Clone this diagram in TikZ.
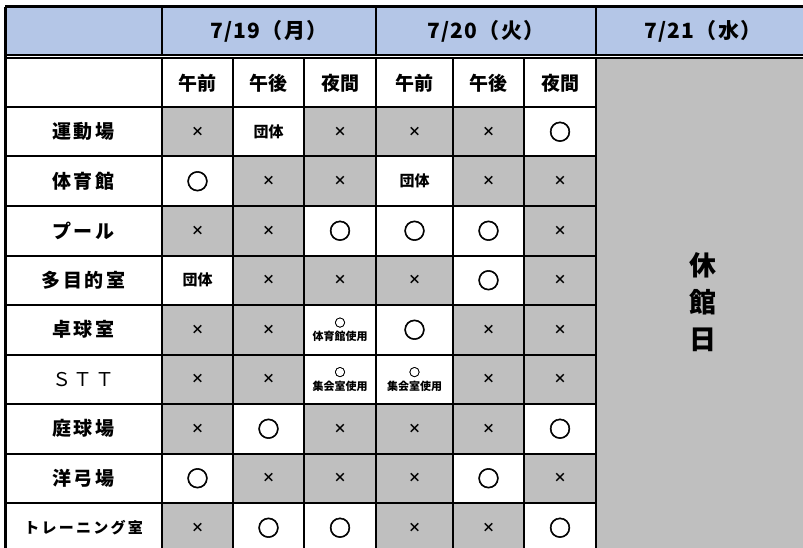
\documentclass[tikz,border=0pt]{standalone}
\usepackage{fontspec}
\newfontfamily\jp{Noto Sans CJK JP}
\usepackage{xcolor}
\definecolor{headblue}{RGB}{180,198,231}
\definecolor{closedgray}{RGB}{191,191,191}
\tikzset{
 rule/.style={line width=2pt},
 frame/.style={line width=3pt},
 datehead/.style={font=\jp\bfseries\fontsize{21}{21}\selectfont\addfontfeature{LetterSpace=6}},
 period/.style={font=\jp\bfseries\fontsize{19}{19}\selectfont},
 place/.style={font=\jp\bfseries\fontsize{19}{19}\selectfont\addfontfeature{LetterSpace=15}},
 cellbox/.style={inner sep=0pt, minimum height=49.5pt},
 nay/.style={cellbox, fill=closedgray, font=\jp\bfseries\fontsize{13}{13}\selectfont, node contents={×}},
 ok/.style={cellbox, font=\jp\bfseries\fontsize{22}{22}\selectfont\addfontfeature{FakeBold=2.5}, node contents={○}},
 dantai/.style={cellbox, font=\jp\bfseries\fontsize{15}{15}\selectfont, node contents={団体}},
 gymuse/.style={cellbox, align=center, font=\jp\bfseries\fontsize{11}{14}\selectfont, node contents={{\addfontfeature{FakeBold=2}○}\\体育館使用}},
 halluse/.style={cellbox, align=center, font=\jp\bfseries\fontsize{11}{14}\selectfont, node contents={{\addfontfeature{FakeBold=2}○}\\集会室使用}},
 closedday/.style={align=center, font=\jp\bfseries\fontsize{27}{37}\selectfont}
}
% one facility row: y, name, label, six slots
\newcommand{\facrow}[9]{
 \node[place] (#2) at (83.5,#1) {#3};
 \node[#4, name=#2-1, at={(197.5,#1)}, minimum width=71pt];
 \node[#5, name=#2-2, at={(268.5,#1)}, minimum width=71pt];
 \node[#6, name=#2-3, at={(340,#1)}, minimum width=72pt];
 \node[#7, name=#2-4, at={(414.5,#1)}, minimum width=77pt];
 \node[#8, name=#2-5, at={(488.5,#1)}, minimum width=71pt];
 \node[#9, name=#2-6, at={(560,#1)}, minimum width=72pt];
}
\begin{document}
\begin{tikzpicture}[x=1pt,y=-1pt]
 \useasboundingbox (0,0) rectangle (803,548);
 \clip (0,0) rectangle (803,548);
 \fill[white] (0,0) rectangle (803,548);
 \fill[headblue] (5,7) rectangle (810,55);
 \fill[closedgray] (596,58.5) rectangle (810,560);
%
 \node[datehead] (mon) at (269,31) {7/19（月）};
 \node[datehead] (tue) at (486,31) {7/20（火）};
 \node[datehead] (wed) at (703,31) {7/21（水）};
 \node[period] (mon-am) at (197.5,83) {午前};
 \node[period] (mon-pm) at (268.5,83) {午後};
 \node[period] (mon-night) at (340,83) {夜間};
 \node[period] (tue-am) at (414.5,83) {午前};
 \node[period] (tue-pm) at (488.5,83) {午後};
 \node[period] (tue-night) at (560,83) {夜間};
%
 \facrow{131.75}{ground}{運動場}{nay}{dantai}{nay}{nay}{nay}{ok}
 \facrow{181.25}{gym}{体育館}{ok}{nay}{nay}{dantai}{nay}{nay}
 \facrow{230.75}{pool}{プール}{nay}{nay}{ok}{ok}{ok}{nay}
 \facrow{280.25}{multi}{多目的室}{dantai}{nay}{nay}{nay}{ok}{nay}
 \facrow{329.75}{pingpong}{卓球室}{nay}{nay}{gymuse}{ok}{nay}{nay}
 \facrow{379.25}{stt}{\mdseries ＳＴＴ}{nay}{nay}{halluse}{halluse}{nay}{nay}
 \facrow{428.75}{tennis}{庭球場}{nay}{ok}{nay}{nay}{nay}{ok}
 \facrow{478.25}{archery}{洋弓場}{ok}{nay}{nay}{nay}{ok}{nay}
 \facrow{527.75}{training}{\fontsize{15}{15}\selectfont トレーニング室}{nay}{ok}{ok}{nay}{nay}{ok}
%
 \node[closedday] (wed-closed) at (703,302) {休\\館\\日};
%
 \draw[frame] (5,7) -- (810,7) (5,7) -- (5,560);
 \draw[rule] (5,55) -- (810,55) (5,58.5) -- (810,58.5);
 \draw[rule] (162,7) -- (162,55) (376,7) -- (376,55) (596,7) -- (596,55);
 \draw[rule] (162,58.5) -- (162,560) (233,58.5) -- (233,560) (304,58.5) -- (304,560) (376,58.5) -- (376,560)
  (453,58.5) -- (453,560) (524,58.5) -- (524,560) (596,58.5) -- (596,560);
 \draw[rule] (5,107) -- (596,107) (5,156.5) -- (596,156.5) (5,206) -- (596,206) (5,255.5) -- (596,255.5)
  (5,305) -- (596,305) (5,354.5) -- (596,354.5) (5,404) -- (596,404) (5,453.5) -- (596,453.5) (5,503) -- (596,503);
\end{tikzpicture}
\end{document}
